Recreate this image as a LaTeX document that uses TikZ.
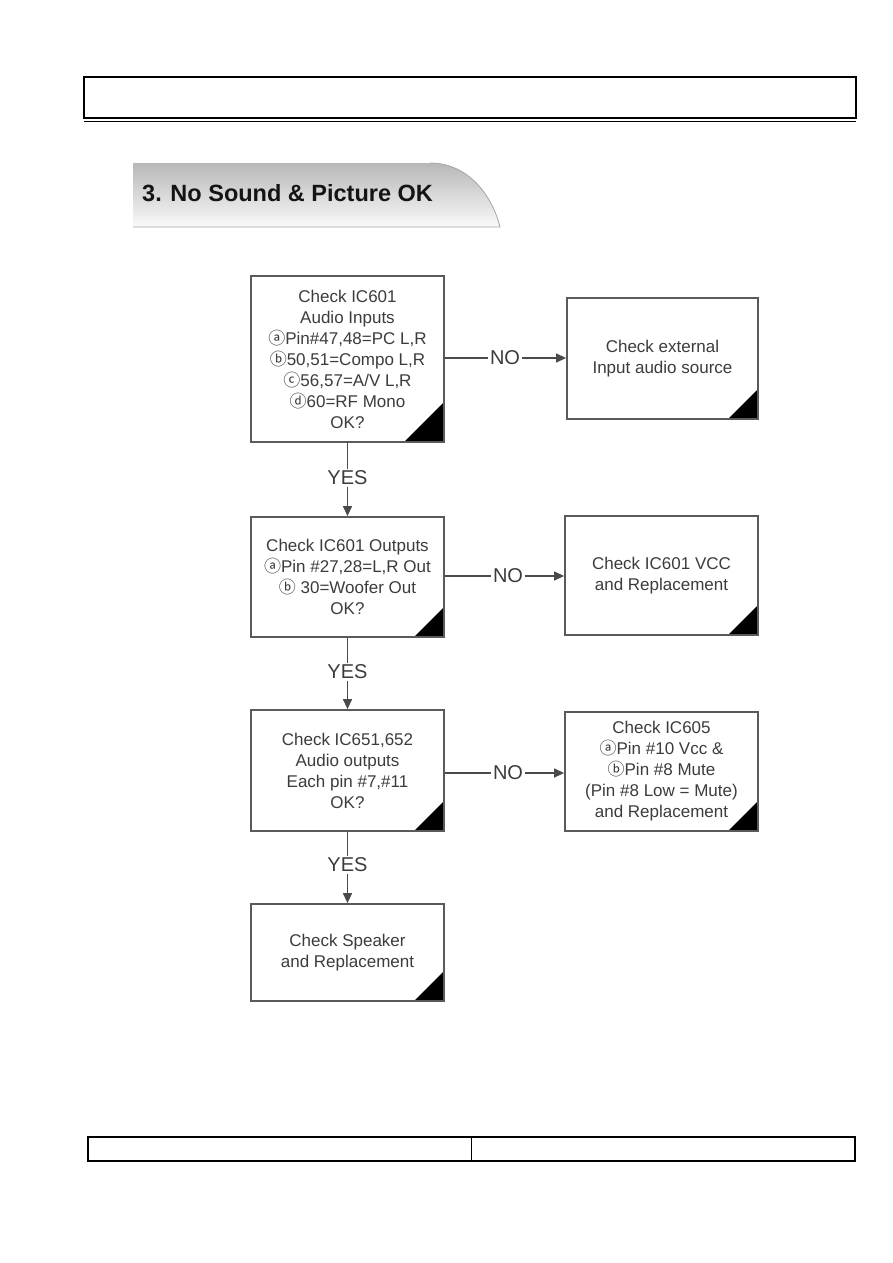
\documentclass[tikz,border=0pt]{standalone}
\usepackage{fontspec}
\setmainfont{Liberation Sans}
\newfontfamily\cfont{Noto Sans CJK SC}
\usetikzlibrary{arrows.meta}
\newcommand{\cira}{{\cfont ⓐ}}
\newcommand{\cirb}{{\cfont ⓑ}}
\newcommand{\circc}{{\cfont ⓒ}}
\newcommand{\cird}{{\cfont ⓓ}}
\definecolor{boxline}{HTML}{5A5A5A}
\definecolor{txt}{HTML}{3C3C3C}
\definecolor{conn}{HTML}{4A4A4A}
\begin{document}
\begin{tikzpicture}[x=1pt,y=-1pt,
  flowbox/.style={draw=boxline, line width=1.8pt, fill=white, align=center,
    text=txt, font=\fontsize{17}{21}\selectfont, inner sep=0pt},
  tri/.style={path picture={\fill[black] (path picture bounding box.south east) -- ++(-#1,0pt) -- ++(#1,#1) -- cycle;}},
  tri/.default=30pt,
  lbl/.style={text=txt, font=\fontsize{20}{22}\selectfont, inner sep=2pt},
  conn/.style={draw=conn, line width=1.3pt},
  arr/.style={conn, -{Triangle[length=10pt,width=9pt]}}
]
\useasboundingbox (0,0) rectangle (893,1263);
% header frame
\draw[line width=2.4pt] (84,77) rectangle (856,118);
\draw[line width=1pt] (84,121.5) -- (856,121.5);
% banner
\shade[top color=black!28, bottom color=black!2]
  (133,163) -- (430,163) .. controls (468,163) and (492,195) .. (500,227) -- (133,227) -- cycle;
\draw[black!35, line width=0.8pt] (133,227) -- (500,227) .. controls (492,195) and (468,163) .. (430,163);
\node[anchor=west, font=\fontsize{23.5}{26}\selectfont\bfseries, text=black!92, inner sep=0pt] (title) at (142,193) {3. No Sound \& Picture OK};
% boxes
\node[flowbox, tri=40pt, minimum width=193pt, minimum height=166pt] (b1) at (347.5,359)
 {Check IC601\\Audio Inputs\\\cira Pin\#47,48=PC L,R\\\cirb 50,51=Compo L,R\\\circc 56,57=A/V L,R\\\cird 60=RF Mono\\OK?};
\node[flowbox, tri, minimum width=191pt, minimum height=121pt] (r1) at (662.5,358.5)
 {Check external\\Input audio source};
\node[flowbox, tri, minimum width=193pt, minimum height=120pt] (b2) at (347.5,577)
 {Check IC601 Outputs\\\cira Pin \#27,28=L,R Out\\\cirb{} 30=Woofer Out\\OK?};
\node[flowbox, tri, minimum width=193pt, minimum height=119pt] (r2) at (661.5,575.5)
 {Check IC601 VCC\\and Replacement};
\node[flowbox, tri, minimum width=193pt, minimum height=121pt] (b3) at (347.5,770.5)
 {Check IC651,652\\Audio outputs\\Each pin \#7,\#11\\OK?};
\node[flowbox, tri, minimum width=193pt, minimum height=119pt] (r3) at (661.5,771.5)
 {Check IC605\\\cira Pin \#10 Vcc \&\\\cirb Pin \#8 Mute\\(Pin \#8 Low = Mute)\\and Replacement};
\node[flowbox, tri, minimum width=193pt, minimum height=97pt] (b4) at (347.5,952.5)
 {Check Speaker\\and Replacement};
% NO connectors
\node[lbl] (n1) at (505,358) {NO};
\node[lbl] (n2) at (508,576) {NO};
\node[lbl] (n3) at (508,773) {NO};
\draw[conn] (b1.east |- n1) -- (n1.west);
\draw[arr] (n1.east) -- (r1.west |- n1);
\draw[conn] (b2.east |- n2) -- (n2.west);
\draw[arr] (n2.east) -- (r2.west |- n2);
\draw[conn] (b3.east |- n3) -- (n3.west);
\draw[arr] (n3.east) -- (r3.west |- n3);
% YES connectors
\node[lbl] (y1) at (347.5,478) {YES};
\node[lbl] (y2) at (347.5,672) {YES};
\node[lbl] (y3) at (347.5,865) {YES};
\draw[conn] (b1.south) -- (y1.north);
\draw[arr] (y1.south) -- (b2.north);
\draw[conn] (b2.south) -- (y2.north);
\draw[arr] (y2.south) -- (b3.north);
\draw[conn] (b3.south) -- (y3.north);
\draw[arr] (y3.south) -- (b4.north);
% footer table
\draw[line width=1.3pt] (88,1137) rectangle (855,1161);
\draw[line width=1pt] (471,1137) -- (471,1161);
\end{tikzpicture}
\end{document}
